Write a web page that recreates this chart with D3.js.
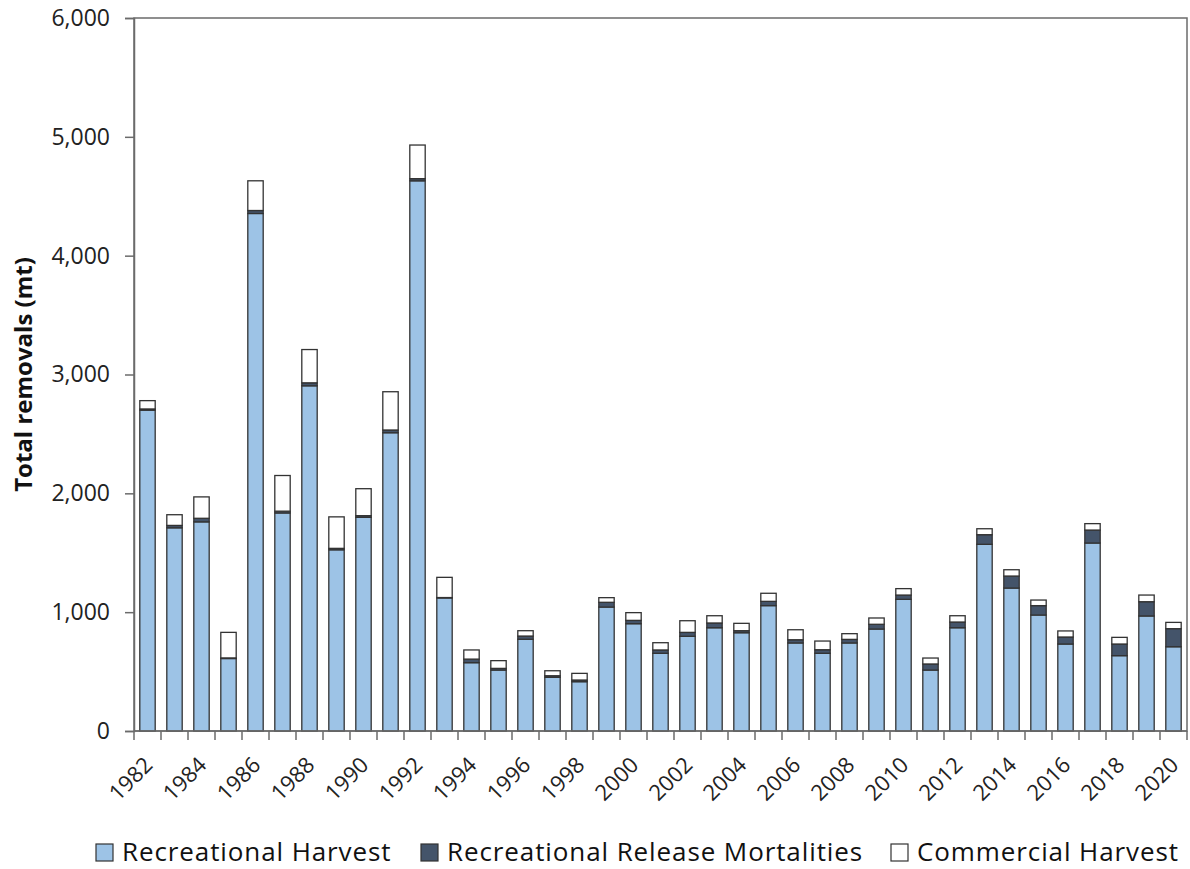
<!DOCTYPE html>
<html><head><meta charset="utf-8">
<script src="https://cdn.jsdelivr.net/npm/d3@7"></script>
<style>body{margin:0;background:#fff;} svg{display:block;}</style>
</head><body>
<svg id="c" width="1190" height="869"></svg>
<script>
const years = d3.range(1982, 2021);
const recHarvest = [2700,1710,1760,610,4355,1835,2905,1525,1798,2510,4630,1120,575,513,772,452,415,1043,903,654,797,869,827,1055,741,654,741,858,1108,513,869,1571,1203,976,732,1582,634,968,709];
const releaseMort = [10,20,30,5,25,15,25,12,14,23,18,3,30,14,27,13,14,40,28,28,33,40,17,36,27,30,30,40,36,51,48,81,101,79,59,109,98,120,152];
const commHarvest = [70,90,180,215,250,300,280,265,227,322,283,170,77,65,45,42,56,39,65,61,98,61,62,68,84,73,48,53,54,50,53,50,53,47,51,54,56,56,53];
const seriesNames = ["Recreational Harvest","Recreational Release Mortalities","Commercial Harvest"];
const seriesColors = ["#9DC3E6","#44546A","#FFFFFF"];
const yTicks = [0,1000,2000,3000,4000,5000,6000];
const yTitle = "Total removals (mt)";

const svg = d3.select("#c");
const L = 134, R = 1187, T = 18, B = 731;
const x = d3.scaleBand().domain(years).range([L, R]).paddingInner(0.43).paddingOuter(0.215);
const y = d3.scaleLinear().domain([0, 6000]).range([B, T]);

const rows = years.map((yr, i) => ({year: yr, s0: recHarvest[i], s1: releaseMort[i], s2: commHarvest[i]}));
const stack = d3.stack().keys(["s0","s1","s2"])(rows);

const font = "'Open Sans', 'Liberation Sans', sans-serif";
const axisColor = "#6b6b6b";

// plot border
svg.append("rect").attr("x", L).attr("y", T).attr("width", R - L).attr("height", B - T)
  .attr("fill", "none").attr("stroke", axisColor).attr("stroke-width", 1.5);

// bars
stack.forEach((layer, k) => {
  svg.append("g").selectAll("rect").data(layer).join("rect")
    .attr("x", d => x(d.data.year))
    .attr("width", x.bandwidth())
    .attr("y", d => y(d[1]))
    .attr("height", d => y(d[0]) - y(d[1]))
    .attr("fill", seriesColors[k])
    .attr("stroke", "#333")
    .attr("stroke-width", 1.3);
});

// y axis
const yAxis = svg.append("g").attr("transform", `translate(${L},0)`)
  .call(d3.axisLeft(y).tickValues(yTicks).tickSize(9).tickPadding(15).tickFormat(d3.format(",")));
yAxis.select(".domain").attr("stroke", axisColor).attr("stroke-width", 1.5);
yAxis.selectAll(".tick line").attr("stroke", axisColor).attr("stroke-width", 1.5);
yAxis.selectAll("text").attr("font-family", font).attr("font-size", 23).attr("fill", "#222");

// x axis: ticks at band boundaries
const boundaries = d3.range(years.length + 1).map(i => L + i * (R - L) / years.length);
svg.append("g").selectAll("line").data(boundaries).join("line")
  .attr("x1", d => d).attr("x2", d => d).attr("y1", B).attr("y2", B + 9)
  .attr("stroke", axisColor).attr("stroke-width", 1.5);
svg.append("line").attr("x1", L).attr("x2", R).attr("y1", B).attr("y2", B)
  .attr("stroke", axisColor).attr("stroke-width", 1.5);

svg.append("g").selectAll("text").data(years.filter(d => d % 2 === 0)).join("text")
  .attr("transform", d => `translate(${x(d) + x.bandwidth() / 2 + 1},${B + 30}) rotate(-45)`)
  .attr("text-anchor", "end").attr("dy", "0.35em")
  .attr("font-family", font).attr("font-size", 22).attr("fill", "#222")
  .text(d => d);

// y title
svg.append("text")
  .attr("transform", `translate(24,${(T + B) / 2}) rotate(-90)`)
  .attr("text-anchor", "middle").attr("dy", "0.35em")
  .attr("font-family", font).attr("font-size", 24).attr("font-weight", "bold").attr("fill", "#111")
  .text(yTitle);

// legend
const legX = [96, 421, 891];
const leg = svg.append("g");
seriesNames.forEach((name, k) => {
  leg.append("rect").attr("x", legX[k]).attr("y", 844).attr("width", 17).attr("height", 17)
    .attr("fill", seriesColors[k]).attr("stroke", "#333").attr("stroke-width", 1.2);
  leg.append("text").attr("x", legX[k] + 26).attr("y", 861)
    .attr("font-family", font).attr("font-size", 26).attr("letter-spacing", "0.9px")
    .attr("fill", "#111").text(name);
});
</script>
</body></html>
